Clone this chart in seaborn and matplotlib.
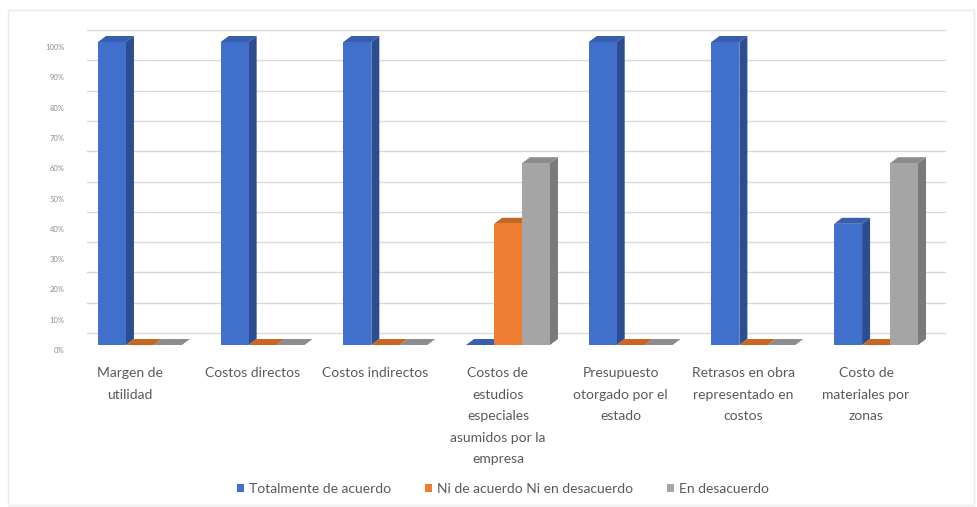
import numpy as np
import pandas as pd
import seaborn as sns
import matplotlib.pyplot as plt
import matplotlib.transforms as mtrans
from matplotlib.colors import to_rgb
from matplotlib.patches import Polygon, Rectangle, Patch

# ---- data -------------------------------------------------------------
categories = [
    "Margen de\nutilidad",
    "Costos directos",
    "Costos indirectos",
    "Costos de\nestudios\nespeciales\nasumidos por la\nempresa",
    "Presupuesto\notorgado por el\nestado",
    "Retrasos en obra\nrepresentado en\ncostos",
    "Costo de\nmateriales por\nzonas",
]
series = ["Totalmente de acuerdo", "Ni de acuerdo Ni en desacuerdo", "En desacuerdo"]
totalmente = [100, 100, 100, 0, 100, 100, 40]
ni_ni = [0, 0, 0, 40, 0, 0, 0]
desacuerdo = [0, 0, 0, 60, 0, 0, 60]
y_ticks = list(range(0, 101, 10))
y_tick_labels = [f"{v}%" for v in y_ticks]

df = pd.DataFrame({
    "categoria": categories * 3,
    "serie": [s for s in series for _ in categories],
    "valor": totalmente + ni_ni + desacuerdo,
})

# colours: front face, side face, top face
front_col = {series[0]: "#4170CC", series[1]: "#ED7D31", series[2]: "#A5A5A5"}
side_col = {series[0]: "#2C4E8F", series[1]: "#B35C1E", series[2]: "#7A7A7A"}
top_col = {series[0]: "#385FAE", series[1]: "#C9661F", series[2]: "#8C8C8C"}

# ---- figure -----------------------------------------------------------
sns.set_theme(style="white")
plt.rcParams["font.family"] = ["Lato", "DejaVu Sans"]

W, H = 978, 507
fig = plt.figure(figsize=(W / 100, H / 100), dpi=100)
fig.patch.set_facecolor("white")
left_px, right_px, top_px, bottom_px = 78.6, 937.4, 42, 345
ax = fig.add_axes([left_px / W, 1 - bottom_px / H,
                   (right_px - left_px) / W, (bottom_px - top_px) / H])
ax.set_facecolor("none")

sns.barplot(data=df, x="categoria", y="valor", hue="serie",
            palette=front_col, saturation=1, width=0.684,
            ax=ax, legend=False, linewidth=0, errorbar=None)
ax.set_xlim(-0.5, 6.5)
ax.set_ylim(0, 100)
for s in ax.spines.values():
    s.set_visible(False)

# back-wall gridlines, shifted up and right to suggest depth
grid_dx, grid_dy = 8, 12
grid_tr = ax.transData + mtrans.ScaledTranslation(grid_dx / 100, grid_dy / 100, fig.dpi_scale_trans)
for v in y_ticks:
    ax.plot([-0.5, 6.5], [v, v], color="#D9D9D9", lw=1.0, transform=grid_tr,
            clip_on=False, zorder=0.5)

# 3D faces for each bar (side + top), painted left to right
depth_dx, depth_dy = 8, 6
ident = mtrans.IdentityTransform()
bars = [p for p in ax.patches if isinstance(p, Rectangle) and p.get_width() > 0]
bars.sort(key=lambda b: b.get_x())
hue_of = {}
for b in bars:
    col = b.get_facecolor()
    for s in series:
        if np.allclose(col[:3], to_rgb(front_col[s]), atol=0.01):
            hue_of[id(b)] = s

for k, b in enumerate(bars):
    s = hue_of[id(b)]
    x0, w, h = b.get_x(), b.get_width(), b.get_height()
    (px0, py0) = ax.transData.transform((x0, 0))
    (px1, py1) = ax.transData.transform((x0 + w, h))
    top = Polygon([(px0, py1), (px1, py1), (px1 + depth_dx, py1 + depth_dy),
                   (px0 + depth_dx, py1 + depth_dy)],
                  closed=True, facecolor=top_col[s], edgecolor="none",
                  transform=ident, clip_on=False, zorder=2 + 2 * k)
    ax.add_patch(top)
    if h > 0:
        side = Polygon([(px1, py0), (px1 + depth_dx, py0 + depth_dy),
                        (px1 + depth_dx, py1 + depth_dy), (px1, py1)],
                       closed=True, facecolor=side_col[s], edgecolor="none",
                       transform=ident, clip_on=False, zorder=2 + 2 * k)
        ax.add_patch(side)
    b.set_zorder(3 + 2 * k)

# ---- axes text --------------------------------------------------------
ax.set_yticks(y_ticks)
ax.set_yticklabels(y_tick_labels, fontsize=5.5, color="#8C8C8C")
ax.tick_params(axis="y", length=0, pad=10)
ax.tick_params(axis="x", length=0, pad=16)
ax.set_xlabel("")
ax.set_ylabel("")
for lbl in ax.get_yticklabels():
    lbl.set_transform(lbl.get_transform() + mtrans.ScaledTranslation(0, -5 / 100, fig.dpi_scale_trans))
ax.set_xticks(range(len(categories)))
ax.set_xticklabels(categories, fontsize=10, color="#595959", ha="center", va="top")
for lbl in ax.get_xticklabels():
    lbl.set_linespacing(1.95)
    lbl.set_transform(lbl.get_transform() + mtrans.ScaledTranslation(-10 / 100, 0, fig.dpi_scale_trans))

# ---- legend -----------------------------------------------------------
handles = [Patch(facecolor=front_col[s], edgecolor="none", label=s) for s in series]
fig.legend(handles=handles, loc="center", bbox_to_anchor=(503 / W, 1 - 489 / H),
           ncol=3, frameon=False, fontsize=10, labelcolor="#595959",
           handlelength=0.55, handleheight=0.55, handletextpad=0.35,
           columnspacing=2.4)

# thin outer frame
fig.add_artist(Rectangle((8 / W, 2 / H), (W - 12) / W, (H - 12) / H,
                         transform=fig.transFigure, fill=False,
                         edgecolor="#EAEAEA", lw=1.0))

fig.savefig("out.png", dpi=100)
